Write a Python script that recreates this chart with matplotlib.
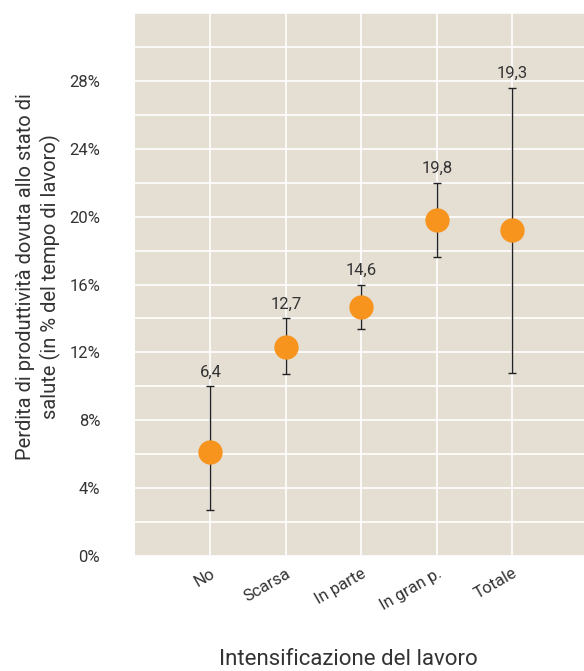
import matplotlib
matplotlib.use("Agg")
import matplotlib.pyplot as plt
from matplotlib.ticker import MultipleLocator, FuncFormatter

plt.rcParams['font.family'] = ['Roboto', 'DejaVu Sans']

categories = ['No', 'Scarsa', 'In parte', 'In gran p.', 'Totale']
values = [6.1, 12.3, 14.7, 19.8, 19.2]
err_low = [2.7, 10.7, 13.4, 17.6, 10.8]
err_high = [10.0, 14.0, 16.0, 22.0, 27.6]
value_labels = ['6,4', '12,7', '14,6', '19,8', '19,3']

bg = '#e4ded3'
orange = '#f7941d'
text_col = '#333333'

fig = plt.figure(figsize=(5.84, 6.71), dpi=100)
ax = fig.add_axes([0.231, 0.1714, 0.769, 0.8092])
ax.set_facecolor(bg)

x = list(range(len(categories)))
lower = [v - lo for v, lo in zip(values, err_low)]
upper = [hi - v for v, hi in zip(values, err_high)]
ax.errorbar(x, values, yerr=[lower, upper], fmt='none', ecolor='#222222',
            elinewidth=1, capsize=3, capthick=1, zorder=3)
ax.plot(x, values, 'o', color=orange, markersize=16.5, zorder=4)

for xi, hi, lab in zip(x, err_high, value_labels):
    ax.text(xi, hi + 0.4, lab, ha='center', va='bottom', fontsize=12, color=text_col)

ax.set_xlim(-1, 4.95)
ax.set_ylim(0, 32)
ax.yaxis.set_major_locator(MultipleLocator(4))
ax.yaxis.set_minor_locator(MultipleLocator(2))
ax.yaxis.set_major_formatter(FuncFormatter(lambda v, p: f'{v:.0f}%' if v <= 28 else ''))
ax.set_xticks(x)
ax.set_xticklabels(categories, rotation=30, ha='right', rotation_mode='anchor',
                   fontsize=12, color=text_col)
ax.tick_params(axis='y', which='both', length=0, labelsize=12, labelcolor=text_col, pad=25)
ax.tick_params(axis='x', length=0, pad=7)

ax.grid(True, which='both', axis='y', color='white', linewidth=1.2)
ax.grid(True, which='major', axis='x', color='white', linewidth=1.2)
ax.set_axisbelow(True)
for s in ax.spines.values():
    s.set_visible(False)

ax.set_ylabel('Perdita di produttività dovuta allo stato di\nsalute (in % del tempo di lavoro)',
              fontsize=14.5, color=text_col, linespacing=1.3, va='center')
ax.yaxis.set_label_coords(-0.215, 0.515)
ax.set_xlabel('Intensificazione del lavoro', fontsize=16, color=text_col, va='center')
ax.xaxis.set_label_coords(0.475, -0.19)

fig.savefig('out.png', dpi=100, facecolor='white')
